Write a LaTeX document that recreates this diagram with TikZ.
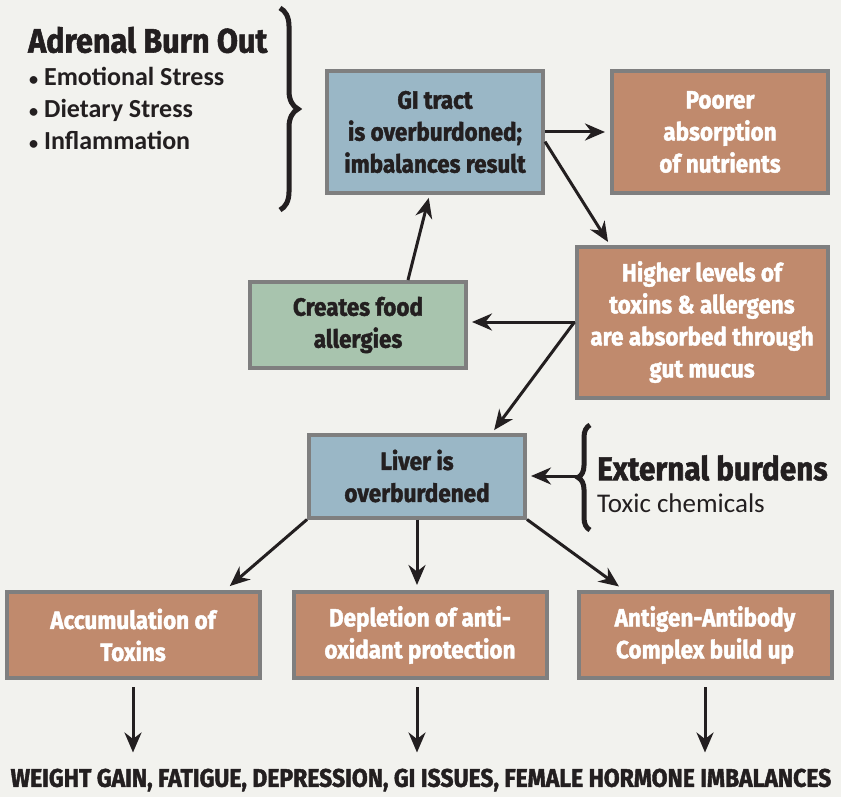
\documentclass[tikz,border=0pt]{standalone}
\usepackage{fontspec}
\setmainfont{Carlito}
\newfontfamily\condfont[FakeStretch=0.9,FakeBold=1.6]{Fira Sans}
\usepackage{tikz}
\usetikzlibrary{arrows.meta,decorations.pathreplacing}
\definecolor{bg}{HTML}{F2F2EE}
\definecolor{ink}{HTML}{231F20}
\definecolor{frame}{HTML}{7F7F7F}
\definecolor{gut}{HTML}{9AB7C6}
\definecolor{rust}{HTML}{C08A6D}
\definecolor{sage}{HTML}{A8C4AE}

\begin{document}
\begin{tikzpicture}[x=1pt,y=-1pt,
    box/.style={draw=frame,line width=4pt,inner sep=0pt,align=center,
      font=\condfont\bfseries\fontsize{25}{32}\selectfont},
    bluebox/.style={box,fill=gut,text=ink},
    brownbox/.style={box,fill=rust,text=white},
    greenbox/.style={box,fill=sage,text=ink},
    arr/.style={draw=ink,line width=3pt,-{Stealth[length=20pt,width=17pt]}},
    curly/.style={draw=ink,line width=5pt,decorate,
      decoration={brace,amplitude=#1}}]
    \fill[bg] (0,0) rectangle (841,797);

    \path
    (435,132) node[bluebox,minimum width=216pt,minimum height=122pt] (gi)
      {GI tract\\is overburdoned;\\imbalances result}
    (720,132) node[brownbox,minimum width=216pt,minimum height=122pt] (poor)
      {Poorer\\absorption\\of nutrients}
    (702,322) node[brownbox,minimum width=251pt,minimum height=151pt] (high)
      {Higher levels of\\toxins \& allergens\\are absorbed through\\gut mucus}
    (358,325) node[greenbox,minimum width=216pt,minimum height=86pt] (cre)
      {Creates food\\allergies}
    (417,476) node[bluebox,minimum width=216pt,minimum height=83pt] (liv)
      {Liver is\\overburdened}
    ;

    \path
    (133,635) node[brownbox,minimum width=253pt,minimum height=86pt] (acc)
      {Accumulation of\\Toxins}
    (420,635) node[brownbox,minimum width=253pt,minimum height=86pt] (dep)
      {Depletion of anti-\\oxidant protection}
    (705,635) node[brownbox,minimum width=253pt,minimum height=86pt] (ant)
      {Antigen-Antibody\\Complex build up}
    ;

    \path
    (28,40) node[anchor=west,inner sep=0pt,text=ink,
      font=\condfont\bfseries\fontsize{34}{38}\selectfont] (adr) {Adrenal Burn Out}
    (29,108) node[anchor=west,inner sep=0pt,text=ink,align=left,
      font=\bfseries\fontsize{26}{32}\selectfont] (causes)
      {\scalebox{0.7}{\textbullet}\ Emotional Stress\\
       \scalebox{0.7}{\textbullet}\ Dietary Stress\\
       \scalebox{0.7}{\textbullet}\ Inflammation}
    (597,468) node[anchor=west,inner sep=0pt,text=ink,
      font=\condfont\bfseries\fontsize{33}{36}\selectfont] (ext) {External burdens}
    (597,503) node[anchor=west,inner sep=0pt,text=ink,
      font=\fontsize{27}{30}\selectfont] (tox) {Toxic chemicals}
    (421,780) node[inner sep=0pt,text=ink,
      font=\condfont\bfseries\fontsize{25.5}{28}\selectfont] (out)
      {WEIGHT GAIN, FATIGUE, DEPRESSION, GI ISSUES, FEMALE HORMONE IMBALANCES}
    ;

    \draw[curly=18pt] (280,8) -- (280,210);
    \draw[curly=12pt] (590,530) -- (590,425);
    \coordinate (tip) at (577,476);

    \draw[arr,shorten >=5pt] (gi.east) -- (poor.west);
    \draw[arr,shorten >=3pt] (gi.-5) -- (high.140);
    \draw[arr,shorten >=3pt] (cre.42) -- (gi.265);
    \draw[arr,shorten >=4pt] (high.west) -- (high.west -| cre.east);
    \draw[arr,shorten >=3pt] (high.west) -- (liv.30);
    \draw[arr,shorten >=4pt] (tip) -- (liv.east);
    \draw[arr,shorten >=6pt] (liv.south west) -- (acc.26);
    \draw[arr,shorten >=5pt] (liv.south) -- (liv.south |- dep.north);
    \draw[arr,shorten >=6pt] (liv.south east) -- (ant.151);
    \draw[arr,shorten <=7pt,shorten >=16pt] (acc.south) -- (acc.south |- out.north);
    \draw[arr,shorten <=7pt,shorten >=16pt] (liv.south |- dep.south) -- (liv.south |- out.north);
    \draw[arr,shorten <=7pt,shorten >=16pt] (ant.south) -- (ant.south |- out.north);
  \end{tikzpicture}
\end{document}
